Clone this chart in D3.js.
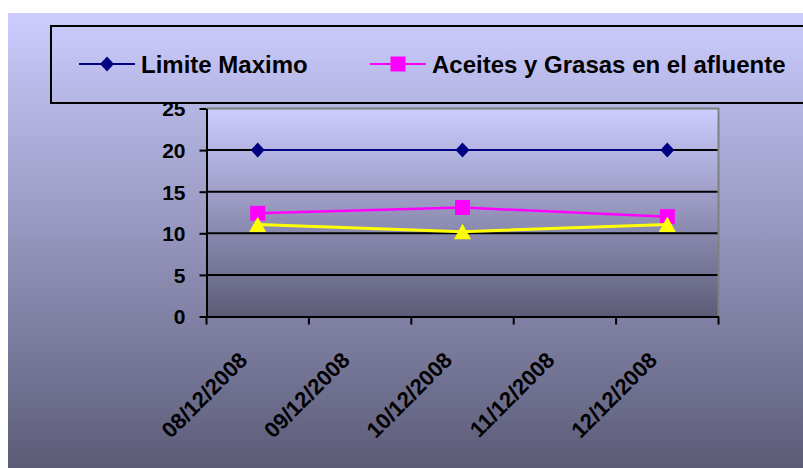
<!DOCTYPE html>
<html>
<head>
<meta charset="utf-8">
<script src="https://cdn.jsdelivr.net/npm/d3@7"></script>
<style>
  body { margin: 0; background: #fff; }
  text { font-family: "Liberation Sans", Arial, sans-serif; font-weight: bold; fill: #000; }
</style>
</head>
<body>
<div class="viz"></div>
<script>
const width = 803;
const height = 468;

// data
const fechas = ["08/12/2008", "09/12/2008", "10/12/2008", "11/12/2008", "12/12/2008"];
const fechasMuestreo = ["08/12/2008", "10/12/2008", "12/12/2008"];
const limiteMaximo = [20, 20, 20];
const aceitesAfluente = [12.4, 13.1, 12.0];
const aceitesEfluente = [11.05, 10.2, 11.05];
const yTicks = [0, 5, 10, 15, 20, 25];

const series = [
    { name: "Limite Maximo", values: limiteMaximo, color: "#000080", marker: "diamond", width: 2 },
    { name: "Aceites y Grasas en el afluente", values: aceitesAfluente, color: "#ff00ff", marker: "square", width: 2.5 },
    { name: "Aceites y Grasas en el efluente", values: aceitesEfluente, color: "#ffff00", marker: "triangle", width: 3 }
];

const svg = d3.select(".viz")
    .append("svg")
    .attr("width", width)
    .attr("height", height)
    .style("display", "block");

// gradients
const defs = svg.append("defs");
function grad(id) {
    const g = defs.append("linearGradient").attr("id", id)
        .attr("x1", 0).attr("y1", 0).attr("x2", 0).attr("y2", 1);
    g.append("stop").attr("offset", "0%").attr("stop-color", "#ccccff");
    g.append("stop").attr("offset", "100%").attr("stop-color", "#5c5c78");
}
grad("bgChart");
grad("bgPlot");

// chart area
svg.append("rect")
    .attr("x", 8).attr("y", 13)
    .attr("width", width - 8).attr("height", height - 13)
    .attr("fill", "url(#bgChart)");

const plot = { left: 206.5, right: 718.5, top: 108.5, bottom: 316.5 };

const x = d3.scaleBand().domain(fechas).range([plot.left, plot.right]);
const y = d3.scaleLinear().domain([0, 25]).range([plot.bottom, plot.top]);

// plot area
svg.append("rect")
    .attr("x", plot.left).attr("y", plot.top)
    .attr("width", plot.right - plot.left).attr("height", plot.bottom - plot.top)
    .attr("fill", "url(#bgPlot)");

// gridlines
svg.append("g")
    .selectAll("line")
    .data(yTicks.filter(d => d > 0 && d < 25))
    .enter()
    .append("line")
    .attr("x1", plot.left).attr("x2", plot.right)
    .attr("y1", d => y(d)).attr("y2", d => y(d))
    .attr("stroke", "#000").attr("stroke-width", 2);

// plot border top/right
svg.append("path")
    .attr("d", `M${plot.left},${plot.top}H${plot.right}V${plot.bottom}`)
    .attr("fill", "none")
    .attr("stroke", "#808080")
    .attr("stroke-width", 2);

// y axis
const yAxis = svg.append("g")
    .attr("transform", `translate(${plot.left},0)`)
    .call(d3.axisLeft(y).tickValues(yTicks).tickSize(7).tickSizeOuter(0).tickPadding(14));
yAxis.select(".domain").attr("stroke", "#000").attr("stroke-width", 2);
yAxis.selectAll(".tick line").attr("stroke", "#000").attr("stroke-width", 2);
yAxis.selectAll(".tick text")
    .attr("fill", "#000")
    .attr("dy", "0.35em")
    .style("font-size", "21px")
    .style("font-family", "'Liberation Sans', Arial, sans-serif")
    .style("font-weight", "bold");

// x axis (ticks between dates)
const xAxis = svg.append("g")
    .attr("transform", `translate(0,${plot.bottom})`)
    .call(d3.axisBottom(x).tickSize(0).tickSizeOuter(0));
xAxis.select(".domain").attr("stroke", "#000").attr("stroke-width", 2);
xAxis.selectAll(".tick text")
    .attr("fill", "#000")
    .attr("y", 0).attr("dy", 0)
    .attr("text-anchor", "end")
    .attr("transform", "translate(-9,45) rotate(-45)")
    .style("font-size", "22px")
    .style("font-family", "'Liberation Sans', Arial, sans-serif")
    .style("font-weight", "bold");

xAxis.selectAll(".sep")
    .data(fechas.map(d => x(d)).concat([x.range()[1]]))
    .enter()
    .append("line")
    .attr("class", "sep")
    .attr("x1", d => d).attr("x2", d => d)
    .attr("y1", 0).attr("y2", 8)
    .attr("stroke", "#000").attr("stroke-width", 2);

// markers
function markerPath(type) {
    if (type === "diamond") return "M0,-7.5L7,0L0,7.5L-7,0Z";
    if (type === "square") return "M-7.5,-7.5H7.5V7.5H-7.5Z";
    return "M0,-8L8.5,7.5H-8.5Z";
}

const cx = d => x(d) + x.bandwidth() / 2;
const line = d3.line()
    .x((d, i) => cx(fechasMuestreo[i]))
    .y(d => y(d));

series.forEach(s => {
    svg.append("path")
        .datum(s.values)
        .attr("d", line)
        .attr("fill", "none")
        .attr("stroke", s.color)
        .attr("stroke-width", s.width);

    svg.selectAll(".m-" + s.marker)
        .data(s.values)
        .enter()
        .append("path")
        .attr("class", "m-" + s.marker)
        .attr("transform", (d, i) => `translate(${cx(fechasMuestreo[i])},${y(d)})`)
        .attr("d", markerPath(s.marker))
        .attr("fill", s.color);
});

// legend (box runs off the right edge)
const legend = svg.append("g");
legend.append("rect")
    .attr("x", 51).attr("y", 26)
    .attr("width", 800).attr("height", 77)
    .attr("fill", "none")
    .attr("stroke", "#000")
    .attr("stroke-width", 2);

const legendX = [79, 370];
series.slice(0, 2).forEach((s, i) => {
    const g = legend.append("g").attr("transform", `translate(${legendX[i]},64)`);
    g.append("line")
        .attr("x1", 0).attr("x2", 56)
        .attr("stroke", s.color).attr("stroke-width", 2);
    g.append("path")
        .attr("transform", "translate(28,0)")
        .attr("d", markerPath(s.marker))
        .attr("fill", s.color);
    g.append("text")
        .attr("x", 62)
        .attr("dy", "0.36em")
        .style("font-size", "24px")
        .text(s.name);
});
</script>
</body>
</html>
